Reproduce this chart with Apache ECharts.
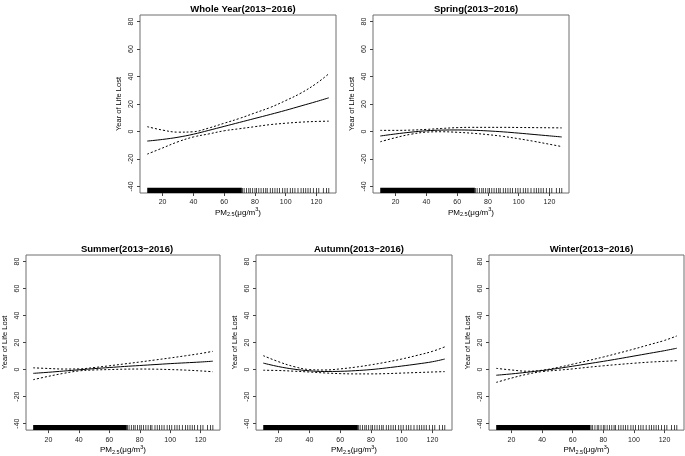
<!DOCTYPE html>
<html>
<head>
<meta charset="utf-8">
<script src="https://cdn.jsdelivr.net/npm/echarts@6/dist/echarts.min.js"></script>
<style>
  html, body { margin: 0; padding: 0; background: #fff; }
  #chart { width: 685px; height: 456px; }
</style>
</head>
<body>
<div id="chart"></div>
<script>
// PM2.5 points where the curves were read
var pm = [10, 20, 30, 40, 50, 60, 70, 80, 90, 100, 110, 120, 128];

// Whole year
var wholeFit   = [-7, -5.8, -4.2, -2, 0.8, 3.7, 6.6, 9.5, 12.4, 15.4, 18.6, 21.8, 24.5];
var wholeUpper = [3.5, 1, -0.5, -0.2, 2.5, 6, 9.5, 13.5, 17.5, 22.5, 28, 35, 42];
var wholeLower = [-16.5, -12, -7.5, -4, -1.8, 0.5, 2, 3.5, 5, 6, 6.8, 7.3, 7.5];
// Spring
var springFit   = [-3.3, -1.8, -0.5, 0.5, 1, 1.1, 0.9, 0.4, -0.3, -1.2, -2.2, -3.2, -4];
var springUpper = [0.8, 0.8, 1, 1.5, 2.2, 2.8, 3, 3, 3, 2.9, 2.8, 2.7, 2.6];
var springLower = [-7.5, -4.5, -2, -0.5, -0.2, -0.6, -1.3, -2.3, -3.6, -5.3, -7.2, -9.3, -11];
// Summer
var summerFit   = [-2.8, -2, -1.1, -0.2, 0.7, 1.5, 2.3, 3, 3.7, 4.4, 5, 5.6, 6.2];
var summerUpper = [1.3, 0.8, 0.4, 0.5, 1.5, 2.8, 4.2, 5.6, 7.1, 8.6, 10.2, 11.9, 13.5];
var summerLower = [-7.5, -5, -2.8, -1, -0.3, 0, 0.3, 0.4, 0.3, 0, -0.4, -1, -1.6];
// Autumn
var autumnFit   = [4.8, 2.2, 0.3, -0.9, -1.4, -1.3, -0.8, 0, 1.2, 2.6, 4.1, 5.8, 7.8];
var autumnUpper = [10.3, 5.8, 2.2, 0, -0.3, 0.5, 1.8, 3.5, 5.5, 7.8, 10.5, 13.5, 16.8];
var autumnLower = [-0.5, -0.7, -1.2, -1.8, -2.5, -3, -3.2, -3.2, -3, -2.6, -2.2, -1.8, -1.5];
// Winter
var winterFit   = [-4.2, -3.2, -2, -0.7, 0.8, 2.5, 4.3, 6.1, 8, 10, 12, 14, 15.8];
var winterUpper = [0.9, -0.3, -1.2, -0.5, 1.5, 4, 6.6, 9.3, 12.2, 15.2, 18.4, 21.6, 24.9];
var winterLower = [-9.5, -6.3, -3.5, -1.5, -0.5, 0.5, 1.7, 2.8, 3.8, 4.7, 5.5, 6.1, 6.6];

// rug: dense block and the sparse ticks above it
var rugDense = [10, 71.5];
var rugSparse = [72, 73, 74.5, 76, 77, 78.5, 80, 81, 82.5, 84, 85.5, 87, 88, 90, 91.5, 93,
  94.5, 96, 98, 99.5, 101, 103, 104.5, 106, 108, 110, 111.5, 113, 114.5, 116, 118, 120, 121.5, 124.5, 126.5, 128];

var titles = ['Whole Year(2013\u22122016)', 'Spring(2013\u22122016)', 'Summer(2013\u22122016)',
  'Autumn(2013\u22122016)', 'Winter(2013\u22122016)'];
var yTicks = [-40, -20, 0, 20, 40, 60, 80];
var xTicks = [20, 40, 60, 80, 100, 120];

var panels = [
  [wholeFit, wholeUpper, wholeLower],
  [springFit, springUpper, springLower],
  [summerFit, summerUpper, summerLower],
  [autumnFit, autumnUpper, autumnLower],
  [winterFit, winterUpper, winterLower]
];

var boxes = [
  {left: 140, top: 15, width: 196, height: 178},
  {left: 373, top: 15, width: 196, height: 178},
  {left: 24, top: 255, width: 196, height: 178},
  {left: 256, top: 255, width: 196, height: 178},
  {left: 489, top: 255, width: 195, height: 178}
];

var FONT = 'Liberation Sans';
var grids = [], xAxes = [], yAxes = [], series = [], title = [];

boxes.forEach(function (b, i) {
  grids.push({left: b.left, top: b.top, width: b.width, height: b.height,
    show: true, borderColor: '#6e6e6e', borderWidth: 1, backgroundColor: 'transparent'});
  title.push({text: titles[i], left: b.left + b.width / 2, top: b.top - 16, textAlign: 'center',
    textStyle: {fontFamily: FONT, fontSize: 9.5, fontWeight: 'bold', color: '#000'}});
  xAxes.push({type: 'value', gridIndex: i, min: 5.3, max: 132.7, position: 'bottom',
    axisLine: {show: false, onZero: false},
    axisTick: {show: true, length: 3, customValues: xTicks, lineStyle: {color: '#444'}},
    axisLabel: {customValues: xTicks, fontFamily: FONT, fontSize: 7, color: '#222', margin: 6},
    splitLine: {show: false},
    name: '{a|PM}{b|2.5}{a|(\u03bcg/m}{c|3}{a|)}', nameLocation: 'middle', nameGap: 13,
    nameTextStyle: {fontFamily: FONT, color: '#000', rich: {
      a: {fontFamily: FONT, fontSize: 8, color: '#000'},
      b: {fontFamily: FONT, fontSize: 5.5, color: '#000', padding: [5, 0, 0, 0]},
      c: {fontFamily: FONT, fontSize: 5.5, color: '#000', padding: [0, 0, 5, 0]}
    }}
  });
  yAxes.push({type: 'value', gridIndex: i, min: -44.8, max: 84.8,
    axisLine: {show: false, onZero: false},
    axisTick: {show: true, length: 3, customValues: yTicks, lineStyle: {color: '#444'}},
    axisLabel: {customValues: yTicks, rotate: 90, fontFamily: FONT, fontSize: 7, color: '#222', margin: 5},
    splitLine: {show: false},
    name: 'Year of Life Lost', nameLocation: 'middle', nameRotate: 90, nameGap: 17,
    nameTextStyle: {fontFamily: FONT, fontSize: 7.5, color: '#000'}
  });

  var p = panels[i];
  var styles = [{type: 'solid'}, {type: [2, 2]}, {type: [2, 2]}];
  p.forEach(function (arr, k) {
    series.push({type: 'line', xAxisIndex: i, yAxisIndex: i, smooth: 0.4, symbol: 'none', silent: true,
      data: pm.map(function (x, j) { return [x, arr[j]]; }),
      lineStyle: {color: '#000', width: 1, type: styles[k].type}
    });
  });
  series.push({type: 'scatter', xAxisIndex: i, yAxisIndex: i, silent: true,
    symbol: 'rect', symbolSize: [0.9, 5], itemStyle: {color: '#000'},
    data: rugSparse.map(function (x) { return [x, -42.9]; }),
    markArea: {silent: true, itemStyle: {color: '#000', opacity: 1},
      data: [[{coord: [rugDense[0], -44.8]}, {coord: [rugDense[1], -41]}]]}
  });
});

var myChart = echarts.init(document.getElementById('chart'), null, {renderer: 'canvas'});
myChart.setOption({
  animation: false,
  backgroundColor: '#fff',
  title: title,
  grid: grids,
  xAxis: xAxes,
  yAxis: yAxes,
  series: series
});
</script>
</body>
</html>
